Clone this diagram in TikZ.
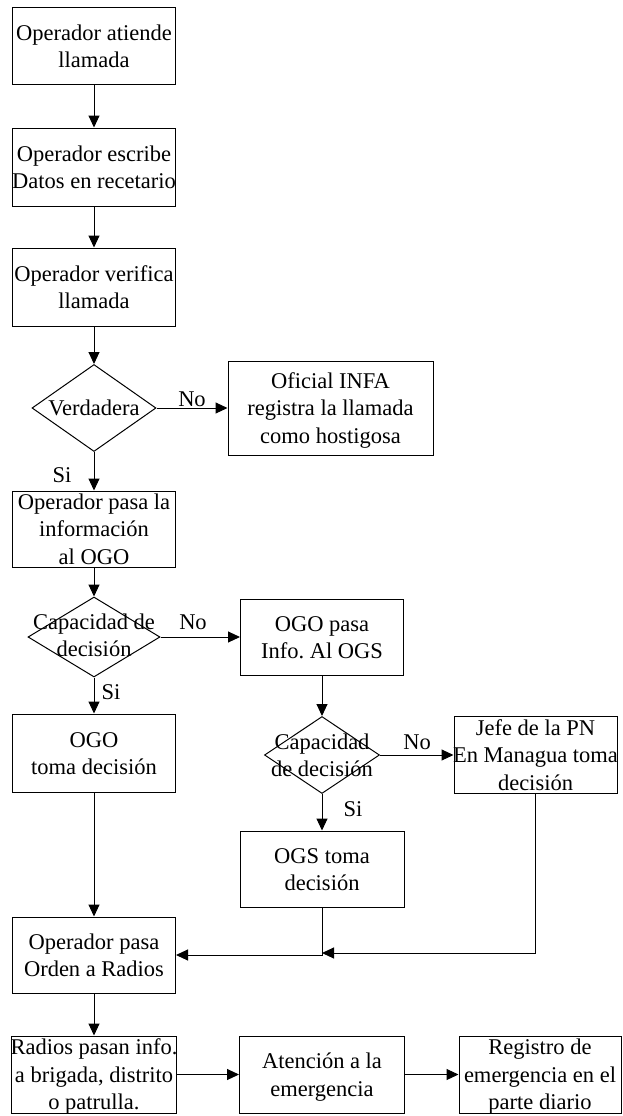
\documentclass[tikz,border=0pt]{standalone}
\usepackage{fontspec}
\setmainfont{Liberation Serif}
\usetikzlibrary{shapes.geometric,arrows.meta}
\frenchspacing
\newcommand{\Txt}[1]{\makebox[0pt]{\raisebox{-7.5pt}[0pt][0pt]{\begin{tabular}{@{}c@{}}#1\end{tabular}}}}
\begin{document}
\begin{tikzpicture}[x=1pt,y=-1pt,
  every node/.style={font=\fontsize{22.5}{27.5}\selectfont, inner sep=0pt},
  box/.style 2 args={draw, line width=1pt, rectangle, minimum width=#1pt, minimum height=#2pt},
  dia/.style 2 args={draw, line width=1pt, diamond, minimum width=#1pt, minimum height=#2pt},
  arr/.style={line width=1pt, -{Triangle[length=12pt,width=11pt]}}]
\useasboundingbox (0,0) rectangle (623,1116);
% left column
\node[box={163}{76}] (b1) at (94,46) {\Txt{Operador atiende\\llamada}};
\node[box={163}{78}] (b2) at (94,167) {\Txt{Operador escribe\\Datos en recetario}};
\node[box={163}{78}] (b3) at (94,287) {\Txt{Operador verifica\\llamada}};
\node[dia={124}{87}] (d1) at (94,408) {};
\node (t1) at (94,408) {Verdadera};
\node[box={205}{94}] (bOf) at (330.5,408) {\Txt{Oficial INFA\\registra la llamada\\como hostigosa}};
\node[box={163}{76}] (b4) at (94,529) {\Txt{Operador pasa la\\información\\al OGO}};
\node[dia={132}{80}] (d2) at (94,637) {};
\node (t2) at (94,635) {\Txt{Capacidad de\\decisión}};
\node[box={163}{76}] (bOGOp) at (322,637) {\Txt{OGO pasa\\Info. Al OGS}};
\node[box={163}{78}] (bOGOt) at (94,753) {\Txt{OGO\\toma decisión}};
\node[dia={115}{77}] (d3) at (322,755) {};
\node (t3) at (322,755) {\Txt{Capacidad\\de decisión}};
\node[box={163}{77}] (bJefe) at (535.5,755) {\Txt{Jefe de la PN\\En Managua toma\\decisión}};
\node[box={164}{76}] (bOGSt) at (322,869) {\Txt{OGS toma\\decisión}};
\node[box={163}{76}] (bOpR) at (94,955) {\Txt{Operador pasa\\Orden a Radios}};
\node[box={165}{77}] (bRad) at (94,1074.5) {\Txt{Radios pasan info.\\a brigada, distrito\\o patrulla.}};
\node[box={165}{77}] (bAt) at (322,1074.5) {\Txt{Atención a la\\emergencia}};
\node[box={162}{77}] (bReg) at (540,1074.5) {\Txt{Registro de\\emergencia en el\\parte diario}};
\coordinate (m) at (322,953);
% labels
\node (no1) at (192,399) {No};
\node (si1) at (62,475) {Si};
\node (no2) at (193,622) {No};
\node (si2) at (111,692) {Si};
\node (no3) at (417,742) {No};
\node (si3) at (353,809) {Si};
% connectors
\draw[arr] (b1) -- (b2);
\draw[arr] (b2) -- (b3);
\draw[arr] (b3) -- (d1);
\draw[arr] (d1) -- (bOf);
\draw[arr] (d1) -- (b4);
\draw[arr] (b4) -- (d2);
\draw[arr] (d2) -- (bOGOp);
\draw[arr] (d2) -- (bOGOt);
\draw[arr] (bOGOp) -- (d3);
\draw[arr] (d3) -- (bJefe);
\draw[arr] (d3) -- (bOGSt);
\draw[arr] (bOGOt) -- (bOpR);
\draw[arr] (bOGSt) |- (bOpR);
\draw[arr] (bJefe) |- (m);
\draw[arr] (bOpR) -- (bRad);
\draw[arr] (bRad) -- (bAt);
\draw[arr] (bAt) -- (bReg);
\end{tikzpicture}
\end{document}
